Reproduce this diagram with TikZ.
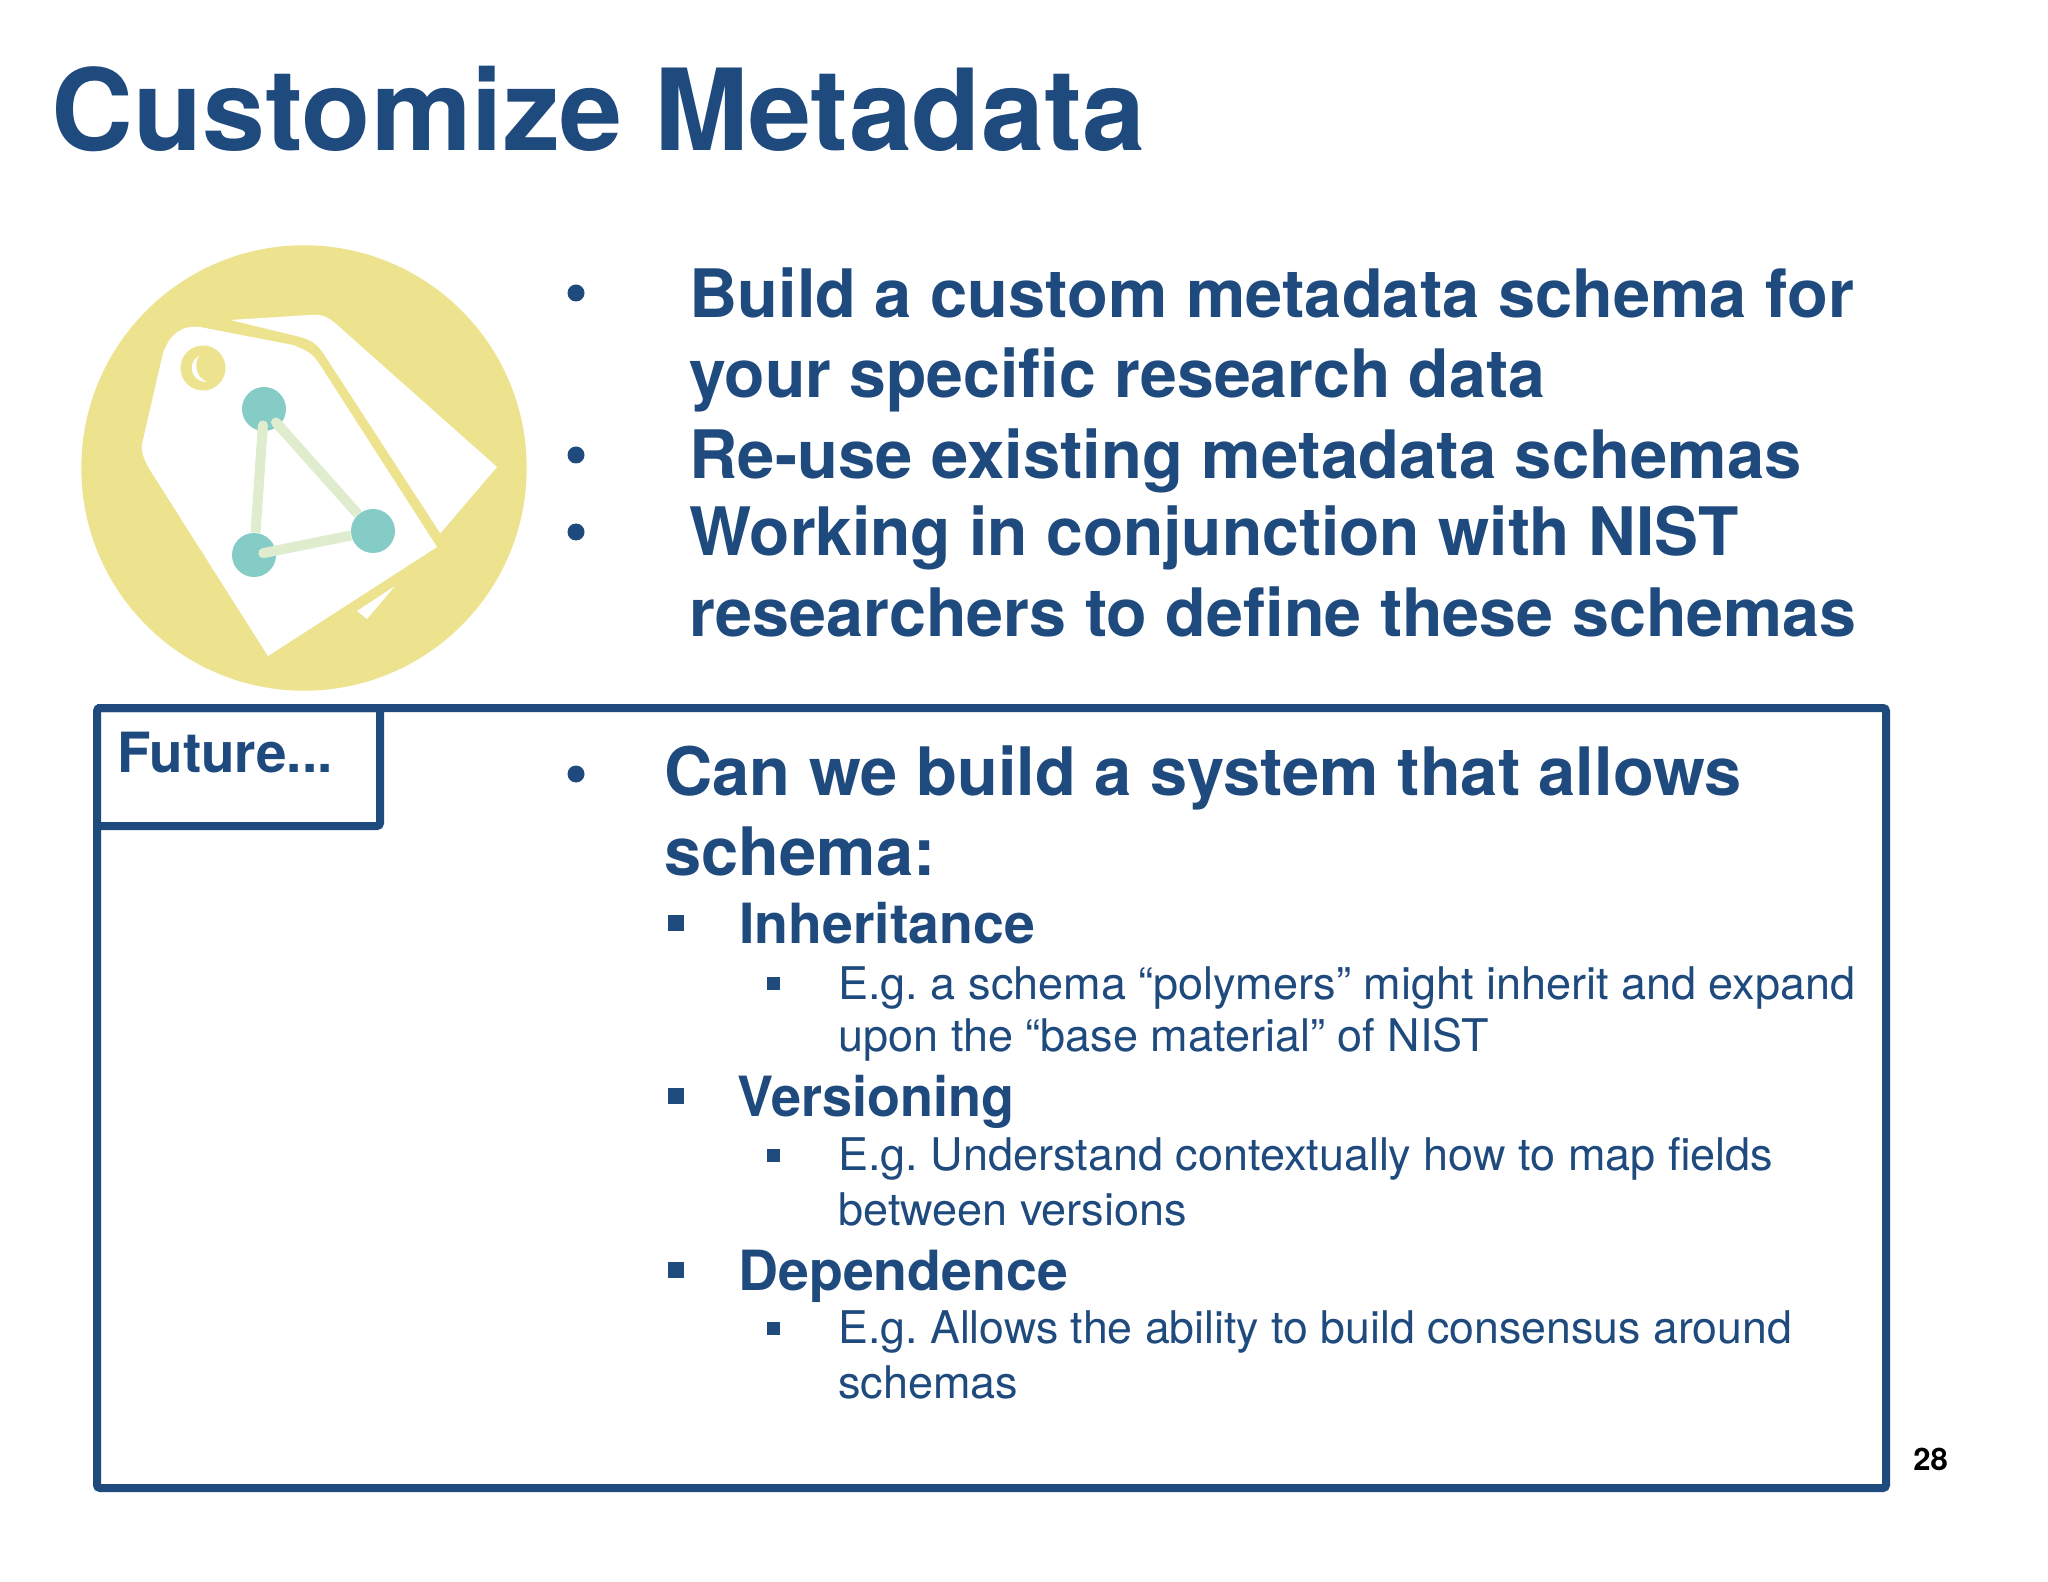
\documentclass[tikz,border=0pt]{standalone}
\usepackage{fontspec}
\setmainfont{TeX Gyre Heros}
\usetikzlibrary{positioning,arrows.meta}
\definecolor{slideblue}{HTML}{1F4A7E}
\definecolor{tagyellow}{HTML}{EDE38F}
\definecolor{dotteal}{HTML}{85CCC7}
\definecolor{linkgreen}{HTML}{DFEDCE}

\begin{document}
\begin{tikzpicture}[x=.5pt,y=-.5pt,
    every node/.style={inner sep=0pt,text=slideblue},
    title text/.style={anchor=base west,font=\fontsize{56.6}{60}\selectfont\bfseries},
    main text/.style={anchor=base west,font=\fontsize{33.4}{40}\selectfont\bfseries},
    sub text/.style={anchor=base west,font=\fontsize{27.7}{32}\selectfont\bfseries},
    small text/.style={anchor=base west,font=\fontsize{22.5}{28}\selectfont\frenchspacing},
    round bullet/.style={circle,fill=slideblue,minimum size=8.5pt},
    big square/.style={rectangle,fill=slideblue,minimum size=8pt},
    small square/.style={rectangle,fill=slideblue,minimum size=6.5pt},
    dot/.style={circle,fill=dotteal,minimum size=22pt},
    link/.style={draw=linkgreen,line width=5pt,{Round Cap[]}-},
    frame/.style={draw=slideblue,line width=4pt,rounded corners=1.5pt}]

  \useasboundingbox[fill=white] (0,0) rectangle (2048,1582);

  \node[title text] (title) at (51,151) {Customize Metadata};

  \fill[tagyellow] (304,468) circle [radius=222.7];
  \fill[white] (230,320) -- (310,315) .. controls (325,314) and (328,318) .. (335,323)
    -- (497,467) -- (438,536) -- (300,500) -- cycle;
  \fill[tagyellow] (230,320) -- (300,337) .. controls (310,340) and (316,343) .. (323,353)
    -- (440,533) -- (437,548) -- (268,656) -- (150,470) -- (200,327) -- cycle;
  \fill[white] (200,327) -- (293,345) .. controls (305,350) and (312,352) .. (320,365)
    -- (437,547) -- (268,656) -- (150,470) .. controls (143,458) and (140,450) .. (143,440)
    -- (163,353) .. controls (170,335) and (180,325) .. (200,327) -- cycle;
  \fill[white] (357,611) -- (395,586) -- (367,619) -- cycle;
  \fill[tagyellow] (203,368) circle [radius=22.5];
  \fill[white] (199,356) .. controls (187,362) and (190,382) .. (207,382)
    .. controls (197,378) and (193,366) .. (199,356) -- cycle;

  \node[dot] (dotA) at (264,409) {};
  \node[dot] (dotB) at (254,555) {};
  \node[dot] (dotC) at (373,531) {};
  \draw[link,shorten <=-5.5pt] (dotA) -- (dotB);
  \draw[link,shorten <=-4.7pt] (dotA) -- (dotC);
  \draw[link,shorten <=-9pt] (dotB) -- (dotC);

  \node[round bullet] (bulletA) at (576,293) {};
  \node[main text] (build) at (689,318) {Build a custom metadata schema for};
  \node[main text,xscale=.99] (your) at (689,398) {your specific research data};
  \node[round bullet] (bulletB) at (576,455) {};
  \node[main text,xscale=1.003] (reuse) at (689,479) {Re-use existing metadata schemas};
  \node[round bullet] (bulletC) at (576,532) {};
  \node[main text,xscale=.987] (working) at (689,556) {Working in conjunction with NIST};
  \node[main text,xscale=.995] (researchers) at (689,636) {researchers to define these schemas};

  \draw[frame] (97,708) rectangle (1886,1488);
  \draw[frame] (97,708) -- (380,708) -- (380,826) -- (97,826);
  \node[sub text,xscale=.99] (future) at (117,772) {Future...};

  \node[round bullet] (bulletD) at (576,774) {};
  \node[main text] (can) at (664,795) {Can we build a system that allows};
  \node[main text] (schema) at (664,875) {schema:};

  \node[big square] (squareA) at (676,923) {};
  \node[sub text] (inherit) at (739,943) {Inheritance};
  \node[small square] (smallA) at (773,983) {};
  \node[small text] (egA) at (838,999) {E.g. a schema “polymers” might inherit and expand};
  \node[small text] (egAb) at (838,1051) {upon the “base material” of NIST};

  \node[big square] (squareB) at (676,1096) {};
  \node[sub text,xscale=.975] (version) at (737,1116) {Versioning};
  \node[small square] (smallB) at (773,1155) {};
  \node[small text] (egB) at (838,1170) {E.g. Understand contextually how to map fields};
  \node[small text] (egBb) at (838,1225) {between versions};

  \node[big square] (squareC) at (676,1270) {};
  \node[sub text] (depend) at (738,1290) {Dependence};
  \node[small square] (smallC) at (773,1328) {};
  \node[small text,xscale=.992] (egC) at (838,1343) {E.g. Allows the ability to build consensus around};
  \node[small text] (egCb) at (838,1398) {schemas};

  \node[anchor=base west,font=\fontsize{15.5}{18}\selectfont\bfseries,text=black] (page) at (1913,1470) {28};
\end{tikzpicture}
\end{document}
